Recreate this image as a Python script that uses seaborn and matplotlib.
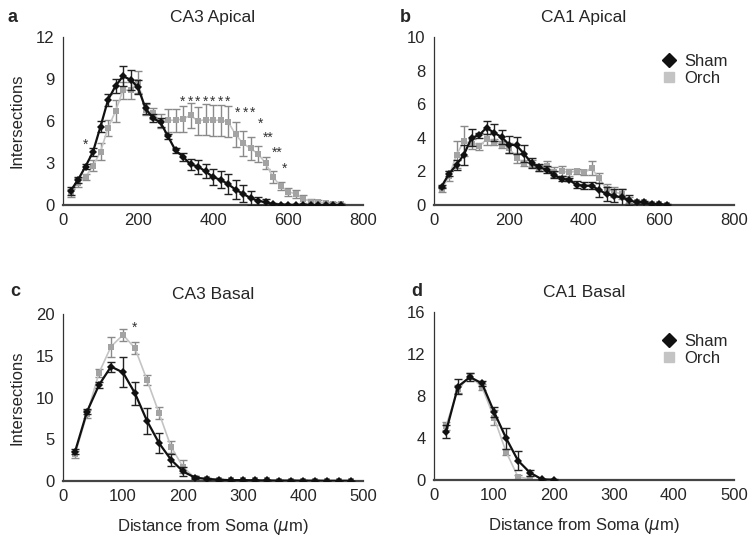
import matplotlib.pyplot as plt
import pandas as pd
import seaborn as sns
from matplotlib.lines import Line2D

sns.set_style("white")
plt.rcParams["font.family"] = ["Liberation Sans", "DejaVu Sans"]
plt.rcParams["mathtext.fontset"] = "dejavusans"

# CA3 apical
dist_a = [20, 40, 60, 80, 100, 120, 140, 160, 180, 200, 220, 240, 260, 280, 300,
          320, 340, 360, 380, 400, 420, 440, 460, 480, 500, 520, 540, 560, 580, 600,
          620, 640, 660, 680, 700, 720, 740]
sham_a = [1.0, 1.8, 2.75, 3.8, 5.6, 7.5, 8.5, 9.2, 8.95, 8.4, 6.9, 6.2, 5.9, 4.9, 3.9,
          3.45, 2.9, 2.75, 2.4, 2.0, 1.8, 1.5, 1.1, 0.8, 0.5, 0.3, 0.2, 0.07, 0.03, 0.02,
          0.01, 0.01, 0, 0, 0, 0, 0]
sham_a_err = [0.3, 0.2, 0.2, 0.3, 0.4, 0.4, 0.5, 0.7, 0.7, 0.5, 0.4, 0.3, 0.3, 0.2, 0.2,
              0.3, 0.4, 0.5, 0.5, 0.6, 0.6, 0.7, 0.7, 0.6, 0.5, 0.3, 0.2, 0.1, 0.05, 0,
              0, 0, 0, 0, 0, 0, 0]
orch_a = [0.85, 1.6, 2.0, 2.8, 3.8, 5.5, 6.7, 8.2, 8.2, 8.8, 6.8, 6.55, 6.0, 6.05, 6.05,
          6.15, 6.4, 6.0, 6.1, 6.05, 6.05, 5.95, 5.05, 4.4, 4.05, 3.65, 3.0, 2.0, 1.35, 0.95,
          0.8, 0.45, 0.25, 0.2, 0.15, 0.1, 0.07]
orch_a_err = [0.3, 0.3, 0.2, 0.4, 0.6, 0.6, 0.8, 0.6, 0.6, 0.8, 0.4, 0.4, 0.5, 0.8, 0.8,
              0.9, 0.9, 1.0, 1.1, 1.1, 1.1, 1.1, 0.9, 0.9, 0.8, 0.6, 0.4, 0.4, 0.3, 0.3,
              0.3, 0.3, 0.2, 0.15, 0.1, 0.1, 0.05]
stars_a = [(60, 4.3, "*"), (320, 7.4, "*"), (340, 7.4, "*"), (360, 7.4, "*"),
           (380, 7.4, "*"), (400, 7.4, "*"), (420, 7.4, "*"), (440, 7.4, "*"),
           (466, 6.6, "*"), (486, 6.6, "*"), (506, 6.6, "*"), (526, 5.8, "*"),
           (548, 4.8, "**"), (570, 3.7, "**"), (592, 2.6, "*")]

# CA1 apical
dist_b = [20, 40, 60, 80, 100, 120, 140, 160, 180, 200, 220, 240, 260, 280, 300,
          320, 340, 360, 380, 400, 420, 440, 460, 480, 500, 520, 540, 560, 580, 600, 620]
sham_b = [1.1, 1.85, 2.4, 3.0, 4.0, 4.15, 4.6, 4.3, 4.05, 3.6, 3.55, 3.05, 2.5, 2.25, 2.1,
          1.8, 1.55, 1.5, 1.2, 1.15, 1.15, 0.9, 0.65, 0.55, 0.45, 0.3, 0.15, 0.15, 0.06, 0.04,
          0.02]
sham_b_err = [0.1, 0.15, 0.3, 0.6, 0.5, 0.15, 0.4, 0.5, 0.4, 0.5, 0.5, 0.5, 0.3, 0.2, 0.2,
              0.2, 0.15, 0.1, 0.2, 0.2, 0.2, 0.4, 0.4, 0.4, 0.5, 0.3, 0.1, 0.1, 0.05, 0.03,
              0.02]
orch_b = [0.95, 1.7, 3.0, 3.8, 3.65, 3.5, 3.9, 3.75, 3.6, 3.4, 2.8, 2.5, 2.45, 2.2, 2.3,
          1.95, 2.0, 1.95, 2.0, 1.95, 2.2, 1.6, 0.95, 0.8, 0.65, 0.3, 0.15, 0.15, 0.06, 0.04,
          0.02]
orch_b_err = [0.15, 0.3, 0.8, 0.9, 0.3, 0.2, 0.3, 0.2, 0.2, 0.3, 0.3, 0.2, 0.2, 0.2, 0.3,
              0.3, 0.3, 0.2, 0.15, 0.15, 0.4, 0.3, 0.3, 0.3, 0.3, 0.2, 0.1, 0.1, 0.05, 0.03,
              0.02]

# CA3 basal
dist_c = [20, 40, 60, 80, 100, 120, 140, 160, 180, 200, 220, 240, 260, 280, 300,
          320, 340, 360, 380, 400, 420, 440, 460, 480]
sham_c = [3.5, 8.3, 11.5, 13.7, 13.0, 10.5, 7.2, 4.55, 2.55, 1.15, 0.4, 0.25, 0.15, 0.1, 0.1,
          0.08, 0.06, 0.05, 0.05, 0.04, 0.04, 0.03, 0.03, 0.03]
sham_c_err = [0.3, 0.3, 0.4, 0.6, 1.8, 1.4, 1.6, 1.2, 0.7, 0.5, 0.2, 0.1, 0.1, 0.05, 0.05,
              0.04, 0.03, 0.03, 0.03, 0.02, 0.02, 0.02, 0.02, 0.02]
orch_c = [3.2, 8.0, 12.95, 16.1, 17.5, 15.9, 12.1, 8.15, 4.1, 1.7, 0.35, 0.25, 0.15, 0.1, 0.1,
          0.08, 0.06, 0.05, 0.05, 0.04, 0.04, 0.03, 0.03, 0.03]
orch_c_err = [0.4, 0.5, 0.5, 1.2, 0.7, 0.7, 0.6, 0.7, 0.7, 0.8, 0.2, 0.1, 0.1, 0.05, 0.05,
              0.04, 0.03, 0.03, 0.03, 0.02, 0.02, 0.02, 0.02, 0.02]
stars_c = [(120, 18.3, "*")]

# CA1 basal
dist_d_sham = [20, 40, 60, 80, 100, 120, 140, 160, 180, 200]
sham_d = [4.6, 8.9, 9.8, 9.2, 6.5, 4.0, 1.85, 0.7, 0.06, 0.03]
sham_d_err = [0.6, 0.7, 0.4, 0.2, 0.5, 1.0, 0.9, 0.3, 0.05, 0.03]
dist_d_orch = [20, 40, 60, 80, 100, 120, 140, 160]
orch_d = [5.15, 8.65, 9.9, 8.85, 5.95, 2.7, 0.3, 0.1]
orch_d_err = [0.4, 0.4, 0.3, 0.3, 0.7, 0.3, 0.2, 0.3]

GROUPS = {
    # name: (line colour, marker colour, error colour, marker)
    "Orch": ("#c4c4c4", "#a3a3a3", "#8a8a8a", "s"),
    "Sham": ("#111111", "#111111", "#222222", "D"),
}


def build_frame(sham_x, sham, sham_err, orch_x, orch, orch_err) -> pd.DataFrame:
    parts = [
        pd.DataFrame({"Distance": orch_x, "Intersections": orch, "Err": orch_err, "Group": "Orch"}),
        pd.DataFrame({"Distance": sham_x, "Intersections": sham, "Err": sham_err, "Group": "Sham"}),
    ]
    return pd.concat(parts, ignore_index=True)


def plot_panel(ax, frame, title, ymax, ystep, xmax, stars=(), legend_y=None,
               ylabel=False, xlabel=False):
    z = 1
    for group in ["Orch", "Sham"]:
        line_c, mark_c, err_c, marker = GROUPS[group]
        sub = frame[frame["Group"] == group]
        ax.errorbar(sub["Distance"], sub["Intersections"], yerr=sub["Err"], fmt="none",
                    ecolor=err_c, elinewidth=1.0, capsize=3, capthick=1.0, zorder=z)
        sns.lineplot(data=sub, x="Distance", y="Intersections", color=line_c,
                     marker=marker, markersize=4 if group == "Sham" else 4.5,
                     markerfacecolor=mark_c, markeredgewidth=0,
                     linewidth=1.6 if group == "Sham" else 1.2,
                     ax=ax, legend=False, zorder=z + 1)
        z += 2
    for x, y, s in stars:
        ax.text(x, y, s, ha="center", va="center", fontsize=10, color="#333333")

    ax.set_xlim(0, xmax)
    ax.set_ylim(0, ymax)
    ax.set_xticks(range(0, xmax + 1, 100 if xmax == 500 else 200))
    ax.set_yticks(range(0, ymax + 1, ystep))
    ax.tick_params(length=0, labelsize=12, pad=6)
    ax.set_title(title, fontsize=12.5, pad=11)
    ax.set_ylabel("Intersections" if ylabel else "", fontsize=12, labelpad=8)
    ax.set_xlabel("Distance from Soma ($\\mathit{\\mu}$m)" if xlabel else "", fontsize=12,
                  labelpad=9)
    sns.despine(ax=ax)
    ax.spines["left"].set_color("#333333")
    ax.spines["left"].set_linewidth(0.9)
    ax.spines["bottom"].set_color("#444444")
    ax.spines["bottom"].set_linewidth(1.6)

    if legend_y is not None:
        handles = [
            Line2D([], [], marker="D", color="#111111", linestyle="none", markersize=7),
            Line2D([], [], marker="s", color="#c4c4c4", linestyle="none", markersize=7),
        ]
        ax.legend(handles, ["Sham", "Orch"], frameon=False, fontsize=12,
                  loc="upper right", bbox_to_anchor=(1.0, legend_y), handletextpad=0.3,
                  borderaxespad=0, labelspacing=0.12, handlelength=1.2)


fig = plt.figure(figsize=(7.54, 5.39), dpi=100)
W, H = 754, 539
ax_a = fig.add_axes([63 / W, (H - 205) / H, 300 / W, 168 / H])
ax_b = fig.add_axes([434 / W, (H - 205) / H, 300 / W, 168 / H])
ax_c = fig.add_axes([63 / W, (H - 481) / H, 300 / W, 167 / H])
ax_d = fig.add_axes([434 / W, (H - 480) / H, 300 / W, 168 / H])

plot_panel(ax_a, build_frame(dist_a, sham_a, sham_a_err, dist_a, orch_a, orch_a_err),
           "CA3 Apical", 12, 3, 800, stars=stars_a, ylabel=True)
plot_panel(ax_b, build_frame(dist_b, sham_b, sham_b_err, dist_b, orch_b, orch_b_err),
           "CA1 Apical", 10, 2, 800, legend_y=0.94)
plot_panel(ax_c, build_frame(dist_c, sham_c, sham_c_err, dist_c, orch_c, orch_c_err),
           "CA3 Basal", 20, 5, 500, stars=stars_c, ylabel=True, xlabel=True)
plot_panel(ax_d, build_frame(dist_d_sham, sham_d, sham_d_err, dist_d_orch, orch_d, orch_d_err),
           "CA1 Basal", 16, 4, 500, legend_y=0.91, xlabel=True)

for letter, x, y in [("a", 12, 17), ("b", 405, 17), ("c", 15, 292), ("d", 417, 291)]:
    fig.text(x / W, 1 - y / H, letter, fontsize=13, fontweight="bold", ha="center",
             va="center")

fig.savefig("out.png", dpi=100)
